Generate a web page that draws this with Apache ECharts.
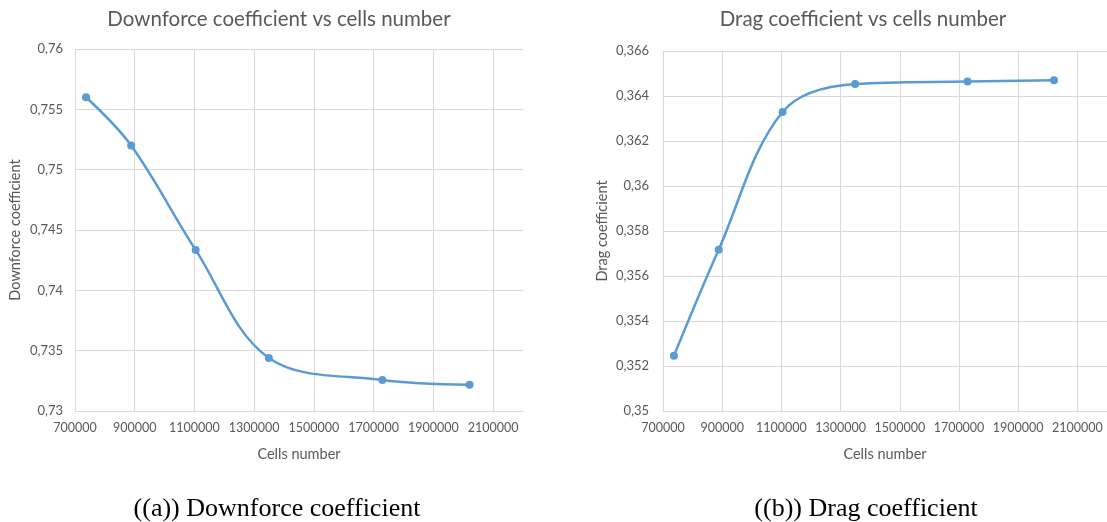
<!DOCTYPE html>
<html>
<head>
<meta charset="utf-8">
<script src="https://cdn.jsdelivr.net/npm/echarts@6/dist/echarts.min.js"></script>
<style>
  html, body { margin: 0; padding: 0; background: #fff; }
  #chart { width: 1107px; height: 522px; }
</style>
</head>
<body>
<div id="chart"></div>
<script>
// cells number (x) for both studies
const cells = [737000, 888000, 1104000, 1349000, 1729000, 2021000];
// downforce coefficient values
const downforce = [0.756, 0.752, 0.74335, 0.7344, 0.73257, 0.73217];
// drag coefficient values
const drag = [0.35246, 0.35717, 0.36329, 0.36453, 0.36464, 0.3647];

const titles = ['Downforce coefficient vs cells number', 'Drag coefficient vs cells number'];
const captions = ['((a)) Downforce coefficient', '((b)) Drag coefficient'];
const yNames = ['Downforce coefficient', 'Drag coefficient'];
const xName = 'Cells number';

const grey = '#595959';
const gridGrey = '#d9d9d9';
const blue = '#5b9bd5';
const font = 'Lato';

// 0.755 -> "0,755"
function commaFmt(v) {
  return parseFloat(v.toFixed(3)).toString().replace('.', ',');
}

function pairs(ys) {
  return cells.map((c, i) => [c, ys[i]]);
}

function xAxisOf(gridIndex) {
  return {
    type: 'value',
    gridIndex: gridIndex,
    min: 700000,
    max: 2200000,
    interval: 200000,
    name: xName,
    nameLocation: 'middle',
    nameGap: 36,
    nameTextStyle: { color: grey, fontSize: 14.5, fontFamily: font },
    axisLine: { show: true, lineStyle: { color: gridGrey, width: 1 } },
    axisTick: { show: false },
    axisLabel: { color: grey, fontSize: 12.5, fontFamily: font, margin: 10, showMaxLabel: false,
      formatter: v => String(Math.round(v)) },
    splitLine: { show: true, showMaxLine: false, lineStyle: { color: gridGrey, width: 1 } }
  };
}

function yAxisOf(gridIndex, min, max, interval, gap, margin) {
  return {
    type: 'value',
    gridIndex: gridIndex,
    min: min,
    max: max,
    interval: interval,
    name: yNames[gridIndex],
    nameLocation: 'middle',
    nameRotate: 90,
    nameGap: gap,
    nameTextStyle: { color: grey, fontSize: 14.5, fontFamily: font },
    axisLine: { show: false },
    axisTick: { show: false },
    axisLabel: { color: grey, fontSize: 13, fontFamily: font, margin: margin, formatter: commaFmt },
    splitLine: { show: true, lineStyle: { color: gridGrey, width: 1 } }
  };
}

function seriesOf(idx, ys) {
  return {
    type: 'line',
    xAxisIndex: idx,
    yAxisIndex: idx,
    data: pairs(ys),
    smooth: 0.35,
    symbol: 'circle',
    symbolSize: 8,
    lineStyle: { color: blue, width: 2.5 },
    itemStyle: { color: blue },
    animation: false
  };
}

const myChart = echarts.init(document.getElementById('chart'), null, { renderer: 'canvas' });

const option = {
  backgroundColor: '#fff',
  animation: false,
  title: [
    { text: titles[0], left: 274, top: 4, textAlign: 'center',
      textStyle: { color: grey, fontSize: 20.5, fontWeight: 'normal', fontFamily: font } },
    { text: titles[1], left: 858, top: 4, textAlign: 'center',
      textStyle: { color: grey, fontSize: 20.5, fontWeight: 'normal', fontFamily: font } },
    { text: captions[0], left: 272, top: 491, textAlign: 'center',
      textStyle: { color: '#000', fontSize: 26, fontWeight: 'normal', fontFamily: 'Liberation Serif' } },
    { text: captions[1], left: 861, top: 491, textAlign: 'center',
      textStyle: { color: '#000', fontSize: 26, fontWeight: 'normal', fontFamily: 'Liberation Serif' } }
  ],
  grid: [
    { left: 75, top: 49, width: 448, height: 362 },
    { left: 663, top: 51, width: 447, height: 360 }
  ],
  xAxis: [xAxisOf(0), xAxisOf(1)],
  yAxis: [
    yAxisOf(0, 0.73, 0.76, 0.005, 52, 12),
    yAxisOf(1, 0.35, 0.366, 0.002, 53, 14)
  ],
  series: [seriesOf(0, downforce), seriesOf(1, drag)]
};

myChart.setOption(option, true);
window.addEventListener('resize', () => myChart.resize());
</script>
</body>
</html>
